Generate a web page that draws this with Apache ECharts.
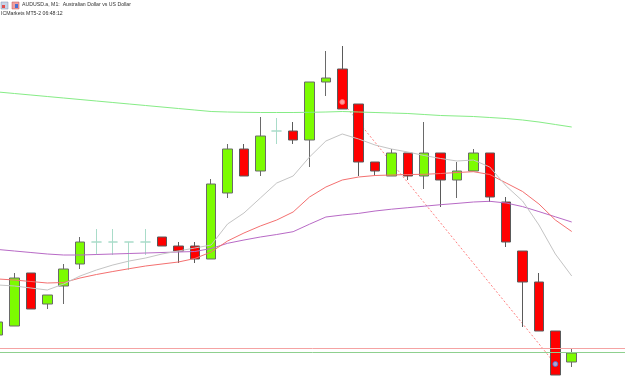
<!DOCTYPE html>
<html><head><meta charset="utf-8">
<script src="https://cdn.jsdelivr.net/npm/echarts@6/dist/echarts.min.js"></script>
<style>html,body{margin:0;padding:0;background:#fff}#c{width:625px;height:390px}</style>
</head><body><div id="c"></div>
<script>
// AUDUSD.a M1, prices in points (1 point = 0.00001); bar index on x
const times = ['06:13','06:14','06:15','06:16','06:17','06:18','06:19','06:20','06:21','06:22','06:23','06:24','06:25','06:26','06:27','06:28','06:29','06:30','06:31','06:32','06:33','06:34','06:35','06:36','06:37','06:38','06:39','06:40','06:41','06:42','06:43','06:44','06:45','06:46','06:47','06:48'];
const open  = [65555,65564,65617,65586,65604,65626,65648,65648,65648,65648,65653,65644,65644,65631,65697,65741,65719,65759,65759,65750,65808,65821,65786,65728,65714,65737,65714,65737,65710,65719,65737,65688,65639,65608,65559,65528];
const close = [65568,65612,65581,65595,65621,65648,65648,65648,65648,65648,65644,65639,65631,65706,65741,65714,65754,65759,65750,65808,65812,65781,65728,65719,65737,65714,65737,65710,65719,65737,65693,65648,65608,65559,65515,65537];
const high  = [65568,65617,65617,65595,65626,65653,65661,65661,65648,65661,65653,65648,65648,65711,65746,65746,65773,65772,65768,65808,65839,65844,65786,65728,65741,65737,65768,65737,65728,65741,65737,65693,65639,65617,65559,65542];
const low   = [65555,65564,65581,65581,65586,65621,65635,65635,65620,65635,65644,65627,65627,65631,65692,65714,65714,65746,65746,65723,65794,65781,65714,65714,65714,65710,65701,65683,65692,65719,65688,65643,65563,65559,65515,65523];
const maSlow  = [65798,65796.5,65795,65793.5,65792,65790.5,65789,65787.5,65786,65784.5,65783,65781.5,65780,65778.5,65778,65777.7,65777.5,65777.5,65777.5,65777.7,65778,65778.5,65778,65777.5,65777,65776.5,65775.5,65774.5,65774,65773.5,65772.5,65771.5,65770,65768,65765.5,65763];
const maFast  = [65605,65604,65602,65600,65606,65614,65620,65625,65629,65632,65636,65639,65642,65645,65666,65677,65692,65707,65714,65733,65749,65756,65751,65745,65741,65738,65734.5,65731.5,65729,65730,65723,65704,65689,65665,65636,65614];
const maMid   = [65611,65610,65608.5,65607,65607.5,65612,65615.5,65618.5,65621.3,65624,65626,65628,65631.5,65638,65649,65657,65664,65670,65678,65693,65703,65710,65713,65714.5,65715,65715.5,65715.7,65716.5,65717.5,65718.3,65715.5,65707,65698.5,65686,65670,65658.5];
const maLong  = [65640.5,65639,65637.5,65636,65635,65635,65635.5,65636,65636.5,65637,65637.5,65638,65638.5,65641.5,65646.7,65650,65653,65655.5,65658.3,65665.8,65673,65675,65676.6,65679,65680.8,65682.3,65683.8,65685.3,65686.6,65688,65688.7,65687,65683.4,65678.4,65673.2,65668];
const bid = 65537.5, ask = 65541.7;
const tradeOpenIdx = 21, tradeOpenPrice = 65788;
const tradeCloseIdx = 34, tradeClosePrice = 65526;
const titleText = 'AUDUSD.a, M1:  Australian Dollar vs US Dollar';
const subText = 'ICMarkets MT5-2 06:48:12';

const dojiColor = '#a9dcc9';
const candleData = open.map((o, i) => {
  const v = [i, open[i], close[i], low[i], high[i]];
  if (open[i] === close[i]) {
    return {value: v, itemStyle: {color: dojiColor, color0: dojiColor, borderColor: dojiColor, borderColor0: dojiColor, borderColorDoji: dojiColor}};
  }
  return v;
});
const pts = arr => arr.map((v, i) => [i, v]);

const chart = echarts.init(document.getElementById('c'), null, {renderer: 'canvas'});
const lineS = (name, data, color) => ({
  name, type: 'line', data: pts(data), symbol: 'none', z: 3, silent: true,
  lineStyle: {color, width: 1}, animation: false
});
chart.setOption({
  animation: false,
  backgroundColor: '#ffffff',
  grid: {left: 0, top: 0, right: 0, bottom: 0, containLabel: false},
  xAxis: {type: 'value', min: 0.116, max: 38.25, show: false, splitLine: {show: false}},
  yAxis: {type: 'value', min: 65500, max: 65890, show: false, splitLine: {show: false}},
  series: [
    {
      name: 'trade', type: 'line', z: 1, symbol: 'none', silent: true,
      data: [[tradeOpenIdx, tradeOpenPrice], [tradeCloseIdx, tradeClosePrice]],
      lineStyle: {color: '#ff8080', width: 1, type: [2, 2]},
      markLine: {
        silent: true, symbol: 'none', label: {show: false},
        data: [
          {yAxis: ask, lineStyle: {color: '#f5a3a3', width: 1, type: 'solid'}},
          {yAxis: bid, lineStyle: {color: '#8fd08f', width: 1, type: 'solid'}}
        ]
      }
    },
    {
      name: 'AUDUSD', type: 'candlestick', z: 2, barWidth: 10, clip: false,
      encode: {x: 0, y: [1, 2, 3, 4]},
      data: candleData,
      itemStyle: {color: '#7CFC00', color0: '#FF0000', borderColor: '#6a6a6a', borderColor0: '#5a5a5a', borderWidth: 1}
    },
    lineS('MA slow', maSlow, '#86ec86'),
    lineS('MA long', maLong, '#b86ac6'),
    lineS('MA mid', maMid, '#f47070'),
    lineS('MA fast', maFast, '#c4c4c4'),
    {
      name: 'deals', type: 'scatter', z: 4, symbol: 'circle', symbolSize: 5, silent: true,
      data: [
        {value: [tradeOpenIdx, tradeOpenPrice], itemStyle: {color: '#ffc0c0', borderColor: '#ff6a6a', borderWidth: 1}},
        {value: [tradeCloseIdx, tradeClosePrice], itemStyle: {color: '#a0c8ff', borderColor: '#3a78d8', borderWidth: 1}}
      ]
    }
  ],
  graphic: [
    {type: 'rect', shape: {x: 1, y: 2, width: 7, height: 7}, style: {fill: '#c8d4e8', stroke: '#8090b0', lineWidth: 0.5}},
    {type: 'rect', shape: {x: 2, y: 5, width: 3, height: 3}, style: {fill: '#e05050'}},
    {type: 'rect', shape: {x: 12, y: 2, width: 7, height: 7}, style: {fill: '#f0a0a0', stroke: '#c05050', lineWidth: 0.5}},
    {type: 'rect', shape: {x: 15, y: 4, width: 3, height: 4}, style: {fill: '#4a70d0'}},
    {type: 'text', x: 22, y: 2, style: {text: titleText, font: '5.2px "Liberation Sans"', fill: '#333'}},
    {type: 'text', x: 1, y: 11, style: {text: subText, font: '5.2px "Liberation Sans"', fill: '#333'}}
  ]
});
</script></body></html>
